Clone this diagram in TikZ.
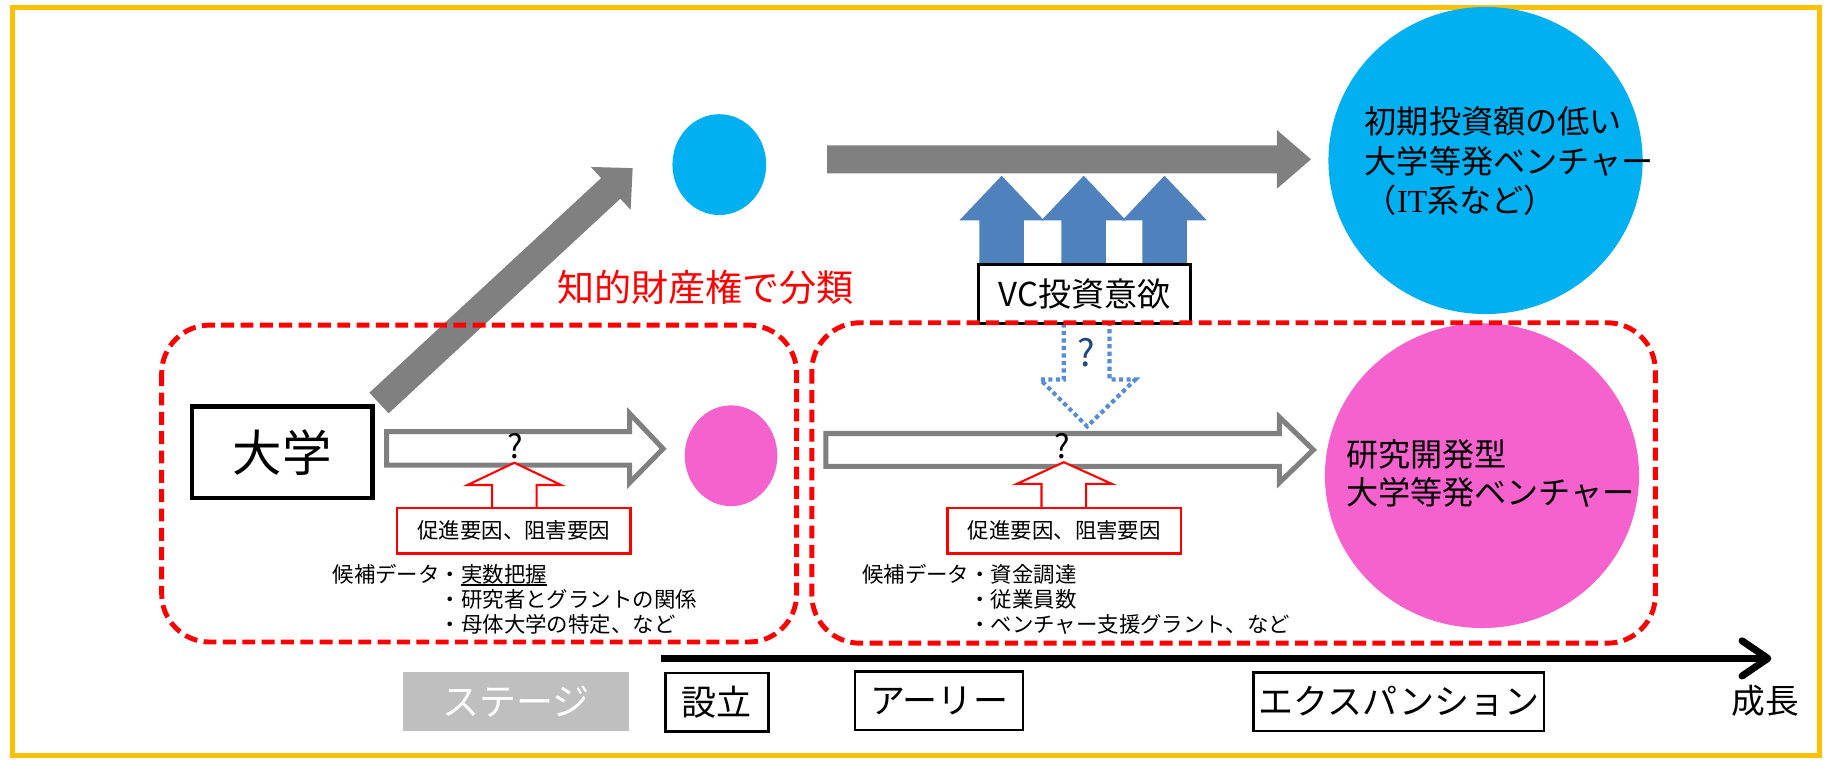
\documentclass[tikz,border=0pt]{standalone}
\usepackage{fontspec}
\setmainfont{Noto Sans CJK JP}
\newfontfamily\itserif{Liberation Serif}
\usetikzlibrary{shapes.geometric,arrows.meta}

\definecolor{frameyellow}{RGB}{255,192,0}
\definecolor{ipblue}{RGB}{0,176,240}
\definecolor{rdpink}{RGB}{245,98,206}
\definecolor{vcblue}{RGB}{79,129,189}
\definecolor{dotblue}{RGB}{85,142,213}
\definecolor{qblue}{RGB}{31,73,125}
\definecolor{arrowgray}{RGB}{128,128,128}
\definecolor{stagegray}{RGB}{191,191,191}

\begin{document}
\begin{tikzpicture}[x=0.01cm,y=-0.01cm,
  every node/.style={inner sep=0pt,outer sep=0pt},
  stagebox/.style={draw=black,line width=0.6pt,minimum height=0.5cm,font=\fontsize{8.5}{8.5}\selectfont},
  factorbox/.style={draw=red,line width=0.6pt,fill=white,minimum width=1.99cm,minimum height=0.385cm,font=\fontsize{5.2}{5.2}\selectfont},
  groupbox/.style={draw=red,line width=0.042cm,dash pattern=on 0.11cm off 0.055cm,rounded corners=0.41cm},
  hollowarrow/.style={draw=arrowgray,line width=0.043cm,fill=white,line join=miter},
  factorarrow/.style={draw=red,line width=0.5pt,fill=white},
  candtext/.style={anchor=north west,align=left,font=\fontsize{5.2}{6.06}\selectfont},
  circtext/.style={anchor=west,align=left,font=\fontsize{7.8}{9.5}\selectfont}]
\useasboundingbox (0,0) rectangle (1568,648);
\fill[white] (0,0) rectangle (1568,648);
\draw[frameyellow,line width=0.043cm] (10.7,6.4) rectangle (1553,645);

% Ventures
\node[ellipse,fill=ipblue,minimum width=2.68cm,minimum height=2.62cm] (itcircle) at (1268,137) {};
\node[ellipse,fill=rdpink,minimum width=2.68cm,minimum height=2.6cm] (rdcircle) at (1265,406) {};
\node[ellipse,fill=ipblue,minimum width=0.8cm,minimum height=0.86cm] (ipdot) at (614,140.5) {};
\node[ellipse,fill=rdpink,minimum width=0.79cm,minimum height=0.86cm] (rddot) at (624,389) {};
\node[circtext] (ittext) at (1165,137.5) {初期投資額の低い\\大学等発ベンチャー\\（{\itserif IT}系など）};
\node[circtext,font=\fontsize{7.8}{9.25}\selectfont] (rdtext) at (1149,404) {研究開発型\\大学等発ベンチャー};

% Fat arrows
\fill[arrowgray] (706,124) -- (1090,124) -- (1090,111) -- (1119,136) -- (1090,161) -- (1090,148) -- (706,148) -- cycle;
\fill[arrowgray] (315.3,335.2) -- (513.1,152.0) -- (504.3,142.5) -- (540,143.5) -- (538.3,179.1) -- (529.5,169.6) -- (331.7,352.8) -- cycle;
\node[anchor=west,text=red,font=\fontsize{9}{9}\selectfont] (iplabel) at (475.5,245.5) {知的財産権で分類};

% VC appetite
\foreach \x in {855,925,994}
  \fill[vcblue] (\x-19,226) -- (\x-19,188) -- (\x-36,188) -- (\x,150) -- (\x+36,188) -- (\x+19,188) -- (\x+19,226) -- cycle;
\draw[dotblue,line width=0.036cm,dash pattern=on 0.036cm off 0.028cm] (908,276) -- (908,324) -- (888,324) -- (928,364) -- (969,324) -- (947,324) -- (947,276);
\node[draw,line width=0.7pt,fill=white,minimum width=1.81cm,minimum height=0.5cm,font=\fontsize{8}{8}\selectfont] (vcbox) at (925.5,251) {VC投資意欲};
\node[text=qblue,font=\fontsize{9}{9}\selectfont] (vcq) at (927,301) {?};

% Hollow arrows
\draw[hollowarrow] (330,368.5) -- (537.5,368.5) -- (537.5,353) -- (566,383) -- (537.5,412) -- (537.5,397) -- (330,397) -- cycle;
\draw[hollowarrow] (705,370) -- (1092,370) -- (1092,356) -- (1121,384) -- (1092,412) -- (1092,398) -- (705,398) -- cycle;
\node[font=\fontsize{8}{8}\selectfont] (qL) at (439.5,381) {?};
\node[font=\fontsize{8}{8}\selectfont] (qR) at (906.5,381) {?};
\draw[factorarrow] (420,434) -- (420,414) -- (399,414) -- (439,395) -- (479,414) -- (458,414) -- (458,434);
\draw[factorarrow] (889,433.5) -- (889,413) -- (868,413) -- (908,394.5) -- (949,413) -- (927,413) -- (927,433.5);
\node[factorbox] (factorL) at (438.5,453) {促進要因、阻害要因};
\node[factorbox] (factorR) at (908.5,453) {促進要因、阻害要因};

\node[draw,line width=1.1pt,fill=white,minimum width=1.54cm,minimum height=0.78cm,font=\fontsize{12}{12}\selectfont] (univ) at (241,386) {大学};

% Candidate data
\node[candtext] (candL) at (284,482) {候補データ・実数把握\smash{\llap{\rule[-0.16em]{4em}{0.09em}}}\\\phantom{候補データ}・研究者とグラントの関係\\\phantom{候補データ}・母体大学の特定、など};
\node[candtext] (candR) at (736,482) {候補データ・資金調達\\\phantom{候補データ}・従業員数\\\phantom{候補データ}・ベンチャー支援グラント、など};

% Stages
\coordinate (tlstart) at (564,562);
\coordinate (tlend) at (1512,562);
\draw[line width=0.06cm,-{Straight Barb[length=0.22cm,width=0.3cm,round]}] (tlstart) -- (tlend);
\node[fill=stagegray,minimum width=1.93cm,minimum height=0.5cm,text=white,font=\fontsize{9}{9}\selectfont] (stage) at (440.5,599) {ステージ};
\node[stagebox,minimum width=0.88cm] (setup) at (612,599.5) {設立};
\node[stagebox,minimum width=1.43cm] (early) at (801.5,598) {アーリー};
\node[stagebox,minimum width=2.48cm] (expansion) at (1194,599) {エクスパンション};
\node[font=\fontsize{8.2}{8.2}\selectfont] (growth) at (1507,598) {成長};

% Groups
\draw[groupbox] (138,277.5) rectangle (680,548);
\draw[groupbox] (693,275.5) rectangle (1413,549);
\end{tikzpicture}
\end{document}
